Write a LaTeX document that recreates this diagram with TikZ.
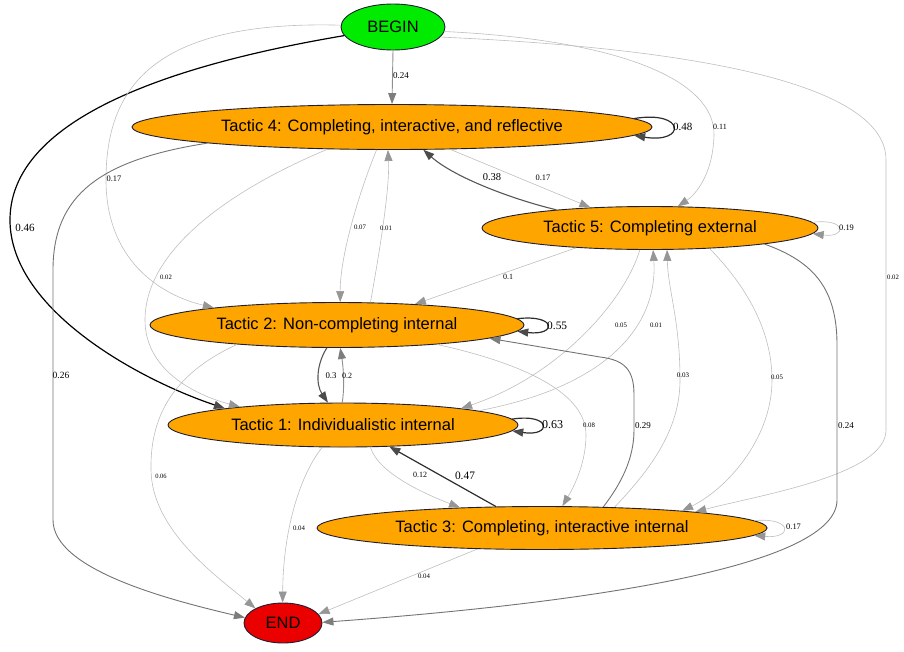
\documentclass[tikz,border=0pt]{standalone}
\usepackage{fontspec}
\newfontfamily\nodefont{Liberation Sans}
\newfontfamily\lblfont{Liberation Serif}
\usepackage{xcolor}
\usepackage{tikz}
\usetikzlibrary{shapes.geometric,arrows.meta}
\definecolor{tacticfill}{RGB}{255,165,0}
\definecolor{beginfill}{RGB}{0,235,0}
\definecolor{endfill}{RGB}{235,0,0}
\definecolor{rimcol}{RGB}{30,30,50}
\definecolor{lightline}{RGB}{190,190,190}
\definecolor{lighttip}{RGB}{150,150,150}
\definecolor{midline}{RGB}{115,115,115}
\definecolor{midtip}{RGB}{125,125,125}
\definecolor{darkline}{RGB}{45,45,45}
\definecolor{darktip}{RGB}{75,75,75}

\begin{document}
\begin{tikzpicture}[x=1pt,y=-1pt,
                    state/.style={ellipse, draw=rimcol, line width=0.9pt, inner sep=0pt,
                                  font=\nodefont\fontsize{16.5}{18}\selectfont},
                    tactic/.style={state, fill=tacticfill},
                    elight/.style={draw=lightline, line width=0.6pt,
                                   -{Triangle[length=11pt,width=8pt,color=lighttip]}},
                    emid/.style={draw=midline, line width=0.9pt,
                                 -{Triangle[length=11pt,width=8pt,color=midtip]}},
                    estrong/.style={draw=darkline!80, line width=1.1pt,
                                    -{Triangle[length=11pt,width=8pt,color=darktip]}},
                    edark/.style={draw=darkline, line width=1.2pt,
                                  -{Triangle[length=11pt,width=8pt,color=darktip]}},
                    lbl/.style={font=\lblfont\fontsize{#1}{#1}\selectfont, inner sep=0pt},
                   ]

\useasboundingbox (0,0) rectangle (904,651);

% states
\node[state, fill=beginfill, minimum width=104pt, minimum height=46pt] (begin) at (393,27) {BEGIN};
\node[tactic, minimum width=520pt, minimum height=45pt] (t4) at (392,127) {Tactic 4: Completing, interactive, and reflective};
\node[tactic, minimum width=336pt, minimum height=43pt] (t5) at (650,228) {Tactic 5: Completing external};
\node[tactic, minimum width=374pt, minimum height=45pt] (t2) at (337,325) {Tactic 2: Non-completing internal};
\node[tactic, minimum width=350pt, minimum height=44pt] (t1) at (343,425) {Tactic 1: Individualistic internal};
\node[tactic, minimum width=450pt, minimum height=43pt] (t3) at (542,528) {Tactic 3: Completing, interactive internal};
\node[state, fill=endfill, minimum width=78pt, minimum height=40pt] (end) at (283,623) {END};

% from BEGIN
\draw[emid, draw=midline!80] (begin.south) -- (t4.north);
\draw[edark, draw=black] (begin.190) .. controls (200,60) and (10,110) .. (10,220)
      .. controls (10,310) and (140,380) .. (t1.172);
\draw[elight] (begin.178) .. controls (150,20) and (106,90) .. (106,180)
      .. controls (106,260) and (160,295) .. (t2.172);
\draw[elight] (begin.-5) .. controls (620,40) and (715,80) .. (714,135)
      .. controls (713,175) and (695,195) .. (t5.38);
\draw[elight] (begin.-12) .. controls (620,45) and (886,70) .. (886,160) -- (886,430)
      .. controls (886,475) and (760,495) .. (t3.6);

% from tactic 4
\draw[edark] (t4.2) .. controls (686,110) and (686,144) .. (t4.-2);
\draw[elight] (t4.-21) -- (t5.161);
\draw[elight] (t4.236) .. controls (360,190) and (340,255) .. (t2.82);
\draw[elight] (t4.199) .. controls (230,190) and (145,250) .. (145,320)
      .. controls (145,370) and (195,395) .. (t1.170);
\draw[emid] (t4.185) .. controls (100,160) and (53,195) .. (53,270) -- (53,520)
      .. controls (53,570) and (170,600) .. (end.172);

% from tactic 5
\draw[estrong] (t5.169) .. controls (515,200) and (455,178) .. (t4.-36);
\draw[elight] (t5.2) .. controls (847,218) and (847,238) .. (t5.-2);
\draw[elight] (t5.195) -- (t2.15);
\draw[elight] (t5.245) .. controls (625,300) and (560,375) .. (t1.8);
\draw[elight] (t5.-19) .. controls (755,295) and (772,340) .. (772,380)
      .. controls (772,440) and (725,490) .. (t3.7);
\draw[emid] (t5.-8) .. controls (815,262) and (837,290) .. (837,345) -- (837,500)
      .. controls (837,570) and (560,605) .. (end.1);

% from tactic 2
\draw[edark] (t2.2) .. controls (557,314) and (557,336) .. (t2.-2);
\draw[elight] (t2.34) .. controls (378,260) and (390,190) .. (t4.260);
\draw[estrong] (t2.246) .. controls (316,365) and (316,385) .. (t1.124);
\draw[elight] (t2.-11) .. controls (530,365) and (586,395) .. (586,435)
      .. controls (586,465) and (572,490) .. (t3.47);
\draw[elight] (t2.191) .. controls (170,375) and (150,420) .. (151,470)
      .. controls (152,530) and (215,575) .. (end.152);

% from tactic 1
\draw[edark] (t1.2) .. controls (552,413) and (552,437) .. (t1.-2);
\draw[emid, draw=midline!80] (t1.92) .. controls (345,385) and (343,365) .. (t2.-82);
\draw[elight] (t1.6) .. controls (615,385) and (658,320) .. (t5.-82);
\draw[elight] (t1.-39) .. controls (378,472) and (420,492) .. (t3.166);
\draw[elight] (t1.227) .. controls (300,475) and (283,530) .. (end.91);

% from tactic 3
\draw[edark] (t3.155) -- (t1.-25);
\draw[emid] (t3.19) .. controls (620,485) and (634,460) .. (634,430) -- (634,395)
      .. controls (634,370) and (625,360) .. (600,357) -- (t2.-5);
\draw[elight] (t3.16) .. controls (650,470) and (680,430) .. (680,380)
      .. controls (680,320) and (668,290) .. (t5.-52);
\draw[elight] (t3.2) .. controls (793,517) and (793,539) .. (t3.-2);
\draw[elight] (t3.198) -- (end.14);

% weights
\node[lbl=9] (w-b-t4) at (401,76) {0.24};
\node[lbl=11] (w-b-t1) at (25,228) {0.46};
\node[lbl=8.4] (w-b-t2) at (114,179) {0.17};
\node[lbl=8] (w-b-t5) at (720,127) {0.11};
\node[lbl=6.7] (w-b-t3) at (893,277) {0.02};
\node[lbl=11, anchor=west] (w-t4-t4) at (673,127) {0.48};
\node[lbl=8.4] (w-t4-t5) at (543,178) {0.17};
\node[lbl=10.5] (w-t5-t4) at (492,177) {0.38};
\node[lbl=6.8] (w-t4-t2) at (360,227) {0.07};
\node[lbl=6.8] (w-t2-t4) at (386,228) {0.01};
\node[lbl=6.7] (w-t4-t1) at (166,277) {0.02};
\node[lbl=9.5] (w-t4-end) at (61,375) {0.26};
\node[lbl=8.4, anchor=west] (w-t5-t5) at (839,228) {0.19};
\node[lbl=8] (w-t5-t2) at (508,277) {0.1};
\node[lbl=6.8] (w-t5-t1) at (621,325) {0.05};
\node[lbl=6.8] (w-t1-t5) at (656,325) {0.01};
\node[lbl=6.8] (w-t5-t3) at (777,377) {0.05};
\node[lbl=9, anchor=west] (w-t5-end) at (838,426) {0.24};
\node[lbl=11.4, anchor=west] (w-t2-t2) at (547,326) {0.55};
\node[lbl=8.8] (w-t2-t1) at (331,376) {0.3};
\node[lbl=8] (w-t1-t2) at (347,376) {0.2};
\node[lbl=6.8] (w-t2-t3) at (589,425) {0.08};
\node[lbl=6.5] (w-t2-end) at (161,476) {0.06};
\node[lbl=12, anchor=west] (w-t1-t1) at (542,425) {0.63};
\node[lbl=8] (w-t1-t3) at (420,475) {0.12};
\node[lbl=11.4] (w-t3-t1) at (465,476) {0.47};
\node[lbl=9, anchor=west] (w-t3-t2) at (635,426) {0.29};
\node[lbl=7] (w-t3-t5) at (683,375) {0.03};
\node[lbl=8.4, anchor=west] (w-t3-t3) at (786,527) {0.17};
\node[lbl=6.8] (w-t3-end) at (424,576) {0.04};
\node[lbl=6.8] (w-t1-end) at (299,528) {0.04};

\end{tikzpicture}
\end{document}
